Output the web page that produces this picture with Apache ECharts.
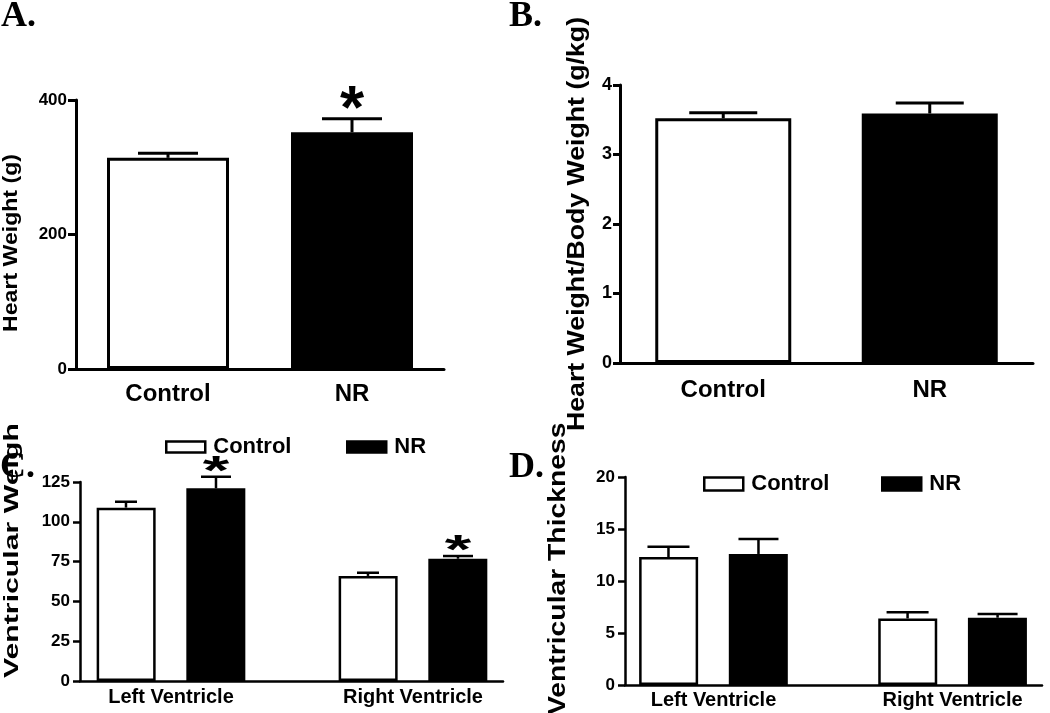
<!DOCTYPE html>
<html><head><meta charset="utf-8">
<script src="https://cdn.jsdelivr.net/npm/echarts@6/dist/echarts.min.js"></script>
<style>html,body{margin:0;padding:0;background:#fff}#c{width:1050px;height:713px}</style>
</head><body><div id="c"></div>
<script>
// ---------- DATA ----------
const groupNames = ['Control', 'NR'];
// Panel A: Heart weight (g)
const heartWeight = [314, 352];
const heartWeightErr = [7, 20];
const heartWeightSig = [false, true];
const yTicksA = [0, 200, 400];
// Panel B: Heart weight / body weight (g/kg)
const hwRatio = [3.52, 3.59];
const hwRatioErr = [0.08, 0.15];
const hwRatioSig = [false, false];
const yTicksB = [0, 1, 2, 3, 4];
// Panel C: Ventricular weight
const ventricles = ['Left Ventricle', 'Right Ventricle'];
const vWeightControl = [108.9, 66];
const vWeightControlErr = [3.7, 2];
const vWeightNR = [121, 76.8];
const vWeightNRErr = [7.3, 1.7];
const vWeightNRSig = [true, true];
const yTicksC = [0, 25, 50, 75, 100, 125];
// Panel D: Ventricular thickness
const vThickControl = [12.3, 6.4];
const vThickControlErr = [1.0, 0.6];
const vThickNR = [12.6, 6.47];
const vThickNRErr = [1.45, 0.36];
const yTicksD = [0, 5, 10, 15, 20];

// ---------- STYLE ----------
const FONT = 'Liberation Sans';
const SERIF = 'Liberation Serif';
const white = {color: '#fff', borderColor: '#000', borderWidth: 3};
const black = {color: '#000', borderColor: '#000', borderWidth: 3};
const groupStyles = [white, black];

function yAx(gridIndex, ticks, fontSize, tickLen, lw, margin) {
  return {
    type: 'value', gridIndex, min: ticks[0], max: ticks[ticks.length - 1], interval: ticks[1] - ticks[0],
    axisLine: {show: true, onZero: false, lineStyle: {color: '#000', width: lw}},
    axisTick: {show: true, length: tickLen, lineStyle: {color: '#000', width: lw}},
    axisLabel: {color: '#000', fontFamily: FONT, fontWeight: 'bold', fontSize, margin},
    splitLine: {show: false}
  };
}
function xCat(gridIndex, cats, fontSize, margin, lw) {
  return {
    type: 'category', gridIndex, data: cats,
    axisLine: {show: true, onZero: false, lineStyle: {color: '#000', width: lw}},
    axisTick: {show: false},
    axisLabel: {color: '#000', fontFamily: FONT, fontWeight: 'bold', fontSize, margin},
    splitLine: {show: false}
  };
}
function xVal(gridIndex, cats, min, max, fontSize, margin, lw) {
  return {
    type: 'value', gridIndex, min, max,
    axisLine: {show: true, onZero: false, lineStyle: {color: '#000', width: lw}},
    axisTick: {show: false},
    axisLabel: {show: true, customValues: cats.map((c, i) => i), formatter: v => cats[Math.round(v)] || '',
      color: '#000', fontFamily: FONT, fontWeight: 'bold', fontSize, margin},
    splitLine: {show: false}
  };
}
function errSeries(axIdx, means, errs, sig, offset, cap, lw, star) {
  return {
    type: 'custom', xAxisIndex: axIdx, yAxisIndex: axIdx, z: 5, silent: true,
    data: means.map((m, i) => [i, m, errs[i], sig && sig[i] ? 1 : 0]),
    encode: {x: 0, y: 1},
    renderItem(params, api) {
      const i = api.value(0), m = api.value(1), e = api.value(2);
      const b = api.coord([i, m]);
      const t = api.coord([i, m + e]);
      const x = b[0] + offset;
      const children = [
        {type: 'line', shape: {x1: x, y1: b[1], x2: x, y2: t[1]}, style: {stroke: '#000', lineWidth: lw}},
        {type: 'line', shape: {x1: x - cap / 2, y1: t[1], x2: x + cap / 2, y2: t[1]}, style: {stroke: '#000', lineWidth: lw}}
      ];
      if (api.value(3)) {
        children.push({type: 'text', x: x, y: t[1] - star.gap, scaleX: star.sx, scaleY: 1,
          style: {text: '*', font: 'bold ' + star.size + 'px ' + FONT, fill: '#000', align: 'center', verticalAlign: 'middle'}});
      }
      return {type: 'group', children};
    }
  };
}
function vBar(axIdx, name, vals, style) {
  return {type: 'bar', name, xAxisIndex: axIdx, yAxisIndex: axIdx, barWidth: 59, barGap: '52%',
    itemStyle: Object.assign({}, style, {borderWidth: 2.5}), data: vals.map((v, i) => [i, v])};
}
function legendItem(name, left, top, icoH) {
  return {data: [name], left, top, padding: 0, icon: 'rect', itemWidth: 39, itemHeight: icoH,
    itemStyle: {borderColor: '#000', borderWidth: 2.5},
    textStyle: {color: '#000', fontFamily: FONT, fontWeight: 'bold', fontSize: 22, padding: [0, 0, 0, 3]}, selectedMode: false};
}

const chart = echarts.init(document.getElementById('c'), null, {renderer: 'canvas'});
const option = {
  animation: false,
  backgroundColor: '#fff',
  grid: [
    {left: 76, top: 100, width: 368, height: 269, outerBoundsMode: 'none'},
    {left: 620, top: 85, width: 413, height: 278, outerBoundsMode: 'none'},
    {left: 80, top: 482, width: 423, height: 199, outerBoundsMode: 'none'},
    {left: 625, top: 477, width: 417, height: 208, outerBoundsMode: 'none'}
  ],
  xAxis: [
    xCat(0, groupNames, 24, 13, 3),
    xCat(1, groupNames, 24, 15, 3),
    xVal(2, ventricles, -0.376, 1.372, 20, 6, 2.5),
    xVal(3, ventricles, -0.370, 1.374, 20, 5, 2.5)
  ],
  yAxis: [
    yAx(0, yTicksA, 17, 8, 3, 9),
    yAx(1, yTicksB, 18, 7, 3, 8),
    yAx(2, yTicksC, 17, 7, 2.5, 10),
    yAx(3, yTicksD, 17, 7, 2.5, 10)
  ],
  legend: [
    legendItem('Control', 165, 436, 11),
    legendItem('NR', 346, 436, 11),
    legendItem('Control', 703, 473, 13),
    legendItem('NR', 881, 473, 13)
  ],
  series: [
    {type: 'bar', name: 'Heart Weight', xAxisIndex: 0, yAxisIndex: 0, barWidth: 122,
      data: heartWeight.map((v, i) => ({value: v, itemStyle: groupStyles[i]}))},
    errSeries(0, heartWeight, heartWeightErr, heartWeightSig, 0, 60, 3, {gap: 8, size: 62, sx: 1}),
    {type: 'bar', name: 'Heart Weight/Body Weight', xAxisIndex: 1, yAxisIndex: 1, barWidth: 136,
      data: hwRatio.map((v, i) => ({value: v, itemStyle: groupStyles[i]}))},
    errSeries(1, hwRatio, hwRatioErr, hwRatioSig, 0, 68, 3, {gap: 8, size: 62, sx: 1}),
    vBar(2, 'Control', vWeightControl, white),
    vBar(2, 'NR', vWeightNR, black),
    errSeries(2, vWeightControl, vWeightControlErr, null, -45, 22, 2.5, {gap: 4, size: 40, sx: 1.7}),
    errSeries(2, vWeightNR, vWeightNRErr, vWeightNRSig, 45, 30, 2.5, {gap: 4, size: 40, sx: 1.7}),
    vBar(3, 'Control', vThickControl, white),
    vBar(3, 'NR', vThickNR, black),
    errSeries(3, vThickControl, vThickControlErr, null, -45, 42, 2.5, {gap: 4, size: 40, sx: 1.7}),
    errSeries(3, vThickNR, vThickNRErr, null, 45, 40, 2.5, {gap: 4, size: 40, sx: 1.7})
  ],
  graphic: [
    {type: 'text', x: 1, y: 17, style: {text: 'A.', font: 'bold 36px ' + SERIF, fill: '#000', align: 'left', verticalAlign: 'middle'}},
    {type: 'text', x: 509, y: 17, style: {text: 'B.', font: 'bold 36px ' + SERIF, fill: '#000', align: 'left', verticalAlign: 'middle'}},
    {type: 'text', x: 0, y: 468, style: {text: 'C.', font: 'bold 36px ' + SERIF, fill: '#000', align: 'left', verticalAlign: 'middle'}},
    {type: 'text', x: 509, y: 468, style: {text: 'D.', font: 'bold 36px ' + SERIF, fill: '#000', align: 'left', verticalAlign: 'middle'}},
    {type: 'text', x: 11, y: 243, rotation: Math.PI / 2, scaleX: 1.1,
      style: {text: 'Heart Weight (g)', font: 'bold 21px ' + FONT, fill: '#000', align: 'center', verticalAlign: 'middle'}},
    {type: 'text', x: 578, y: 224, rotation: Math.PI / 2, scaleX: 1.16,
      style: {text: 'Heart Weight/Body Weight (g/kg)', font: 'bold 23px ' + FONT, fill: '#000', align: 'center', verticalAlign: 'middle'}},
    {type: 'text', x: 12.5, y: 678, rotation: Math.PI / 2, scaleX: 1.44,
      style: {text: 'Ventricular Weight (g)', font: 'bold 21px ' + FONT, fill: '#000', align: 'left', verticalAlign: 'middle',
        width: 178, overflow: 'truncate', ellipsis: ''}},
    {type: 'text', x: 558.5, y: 715, rotation: Math.PI / 2, scaleX: 1.23,
      style: {text: 'Ventricular Thickness', font: 'bold 23px ' + FONT, fill: '#000', align: 'left', verticalAlign: 'middle'}}
  ]
};
chart.setOption(option);
</script>
</body></html>
